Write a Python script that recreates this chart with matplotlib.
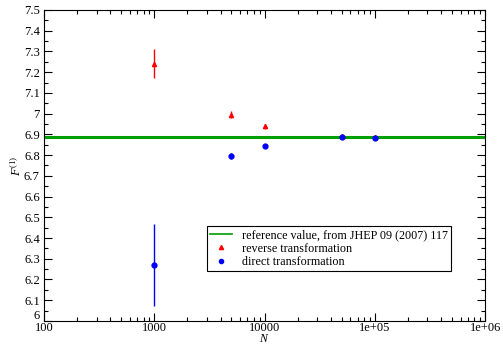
import matplotlib
matplotlib.use("Agg")
import matplotlib.pyplot as plt
from matplotlib.lines import Line2D
from matplotlib.ticker import LogLocator, MultipleLocator, FixedLocator
from matplotlib.transforms import ScaledTranslation

plt.rcParams['font.family'] = ['Liberation Serif', 'DejaVu Serif']
plt.rcParams['mathtext.fontset'] = 'custom'
plt.rcParams['mathtext.rm'] = 'Liberation Serif'
plt.rcParams['mathtext.it'] = 'Liberation Serif:italic'

N_values = [1000, 5000, 10000, 50000, 100000]
reverse_vals = [7.24, 6.995, 6.94, 6.892, 6.888]
reverse_errs = [0.07, 0.018, 0.012, 0.005, 0.005]
direct_vals = [6.27, 6.795, 6.845, 6.888, 6.882]
direct_errs = [0.20, 0.015, 0.008, 0.005, 0.006]
reference_value = 6.888
x_tick_labels = ['100', '1000', '10000', '1e+05', '1e+06']
y_ticks = [6.0, 6.1, 6.2, 6.3, 6.4, 6.5, 6.6, 6.7, 6.8, 6.9, 7.0, 7.1, 7.2, 7.3, 7.4, 7.5]
y_tick_labels = ['6', '6.1', '6.2', '6.3', '6.4', '6.5', '6.6', '6.7', '6.8', '6.9', '7', '7.1', '7.2', '7.3', '7.4', '7.5']

fig = plt.figure(figsize=(5.03, 3.44), dpi=100)
ax = fig.add_axes([0.0875, 0.067, 0.877, 0.904])

ax.axhline(reference_value, color='#00a000', lw=2.2, zorder=2)
ax.errorbar(N_values, reverse_vals, yerr=reverse_errs, fmt='^', color='red',
            ms=3, elinewidth=1.0, capsize=0, zorder=3)
ax.errorbar(N_values, direct_vals, yerr=direct_errs, fmt='o', color='blue',
            ms=3.5, elinewidth=1.0, capsize=0, zorder=4)

ax.set_xscale('log')
ax.set_xlim(100, 1e6)
ax.set_ylim(6.0, 7.5)
ax.xaxis.set_major_locator(FixedLocator([100, 1000, 10000, 1e5, 1e6]))
ax.set_xticklabels(x_tick_labels)
ax.xaxis.set_minor_locator(LogLocator(base=10, subs=range(2, 10), numticks=20))
ax.xaxis.set_minor_formatter(plt.NullFormatter())
ax.set_yticks(y_ticks)
ax.set_yticklabels(y_tick_labels)
ax.yaxis.set_minor_locator(MultipleLocator(0.05))

ax.tick_params(which='both', direction='in', top=True, right=True, labelsize=9)
ax.tick_params(which='major', length=6, width=0.8)
ax.tick_params(which='minor', length=3, width=0.8)
ax.tick_params(axis='x', pad=1)
ax.tick_params(axis='y', pad=3)

# raise the bottom "6" label a little, as in the reference
lbl = ax.get_yticklabels()[0]
lbl.set_transform(lbl.get_transform() + ScaledTranslation(0, 4.5 / 72, fig.dpi_scale_trans))

ax.set_xlabel(r'$N$', fontsize=8.5, labelpad=-1)
ax.set_ylabel(r'$F^{(1)}$', fontsize=9, labelpad=0)

handles = [
    Line2D([], [], color='#00a000', lw=1.2),
    Line2D([], [], color='red', marker='^', ls='none', ms=3),
    Line2D([], [], color='blue', marker='o', ls='none', ms=3),
]
labels = ['reference value, from JHEP 09 (2007) 117',
          'reverse transformation', 'direct transformation']
leg = ax.legend(handles, labels, loc='lower left', bbox_to_anchor=(0.355, 0.14), fontsize=8.7,
                frameon=True, fancybox=False, edgecolor='black', framealpha=1,
                handlelength=1.8, handletextpad=0.8, borderpad=0.3, labelspacing=0.1)
leg.get_frame().set_linewidth(0.8)

fig.savefig('out.png', dpi=100)
